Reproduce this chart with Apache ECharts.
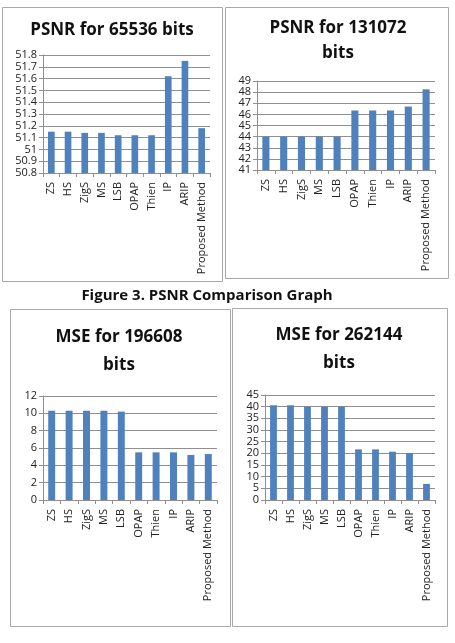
<!DOCTYPE html>
<html>
<head>
<meta charset="utf-8">
<script src="https://cdn.jsdelivr.net/npm/echarts@6/dist/echarts.min.js"></script>
<style>
html,body{margin:0;padding:0;background:#fff;}
#c{width:455px;height:643px;}
</style>
</head>
<body>
<div id="c"></div>
<script>
const categories = ['ZS','HS','ZigS','MS','LSB','OPAP','Thien','IP','ARIP','Proposed Method'];
const psnr65536 = [51.15,51.15,51.14,51.14,51.12,51.12,51.12,51.62,51.75,51.18];
const psnr131072 = [44,44,44,44,44,46.35,46.35,46.35,46.7,48.25];
const mse196608 = [10.3,10.3,10.3,10.3,10.2,5.5,5.5,5.5,5.2,5.3];
const mse262144 = [40.6,40.6,40,40,40,21.7,21.7,20.7,20.1,6.9];
const titles = ['PSNR for 65536 bits','PSNR for 131072\nbits','MSE for 196608\nbits','MSE for 262144\nbits'];
const caption = 'Figure 3. PSNR Comparison Graph';
const yMin = [50.8,41,0,0];
const yMax = [51.8,49,12,45];
const yStep = [0.1,1,2,5];

const FONT = '"Open Sans", "Noto Sans", sans-serif';
const seriesData = [psnr65536, psnr131072, mse196608, mse262144];
const grids = [
  {left:43, top:55, width:167, height:118},
  {left:257, top:81, width:178, height:89},
  {left:43, top:396, width:174, height:104},
  {left:265, top:395, width:170, height:105}
];
const gridColor = '#8f8f8f';
const xAxes = [], yAxes = [], series = [];
for (let i = 0; i < 4; i++) {
  xAxes.push({
    type:'category', gridIndex:i, data:categories,
    axisLine:{lineStyle:{color:gridColor,width:1}},
    axisTick:{show:true,length:4,lineStyle:{color:gridColor}},
    axisLabel:{rotate:90,fontSize:11,color:'#222',fontFamily:FONT,margin:9,interval:0}
  });
  yAxes.push({
    type:'value', gridIndex:i, min:yMin[i], max:yMax[i], interval:yStep[i],
    axisLine:{show:true,lineStyle:{color:gridColor}},
    axisTick:{show:true,length:4,lineStyle:{color:gridColor}},
    splitLine:{show:true,lineStyle:{color:gridColor,width:1}},
    axisLabel:{fontSize:11,color:'#222',fontFamily:FONT,margin:6,
      formatter:function(v){return String(+(+v).toFixed(1));}}
  });
  series.push({
    type:'bar', xAxisIndex:i, yAxisIndex:i, data:seriesData[i],
    barWidth:'40%', itemStyle:{color:'#4f81bd'}, animation:false
  });
}
const borderStyle = {fill:'#fff', stroke:'#a8a8a8', lineWidth:1};
const graphic = [
  {type:'rect', z:-10, shape:{x:2.5,y:7.5,width:220,height:274}, style:borderStyle},
  {type:'rect', z:-10, shape:{x:225.5,y:7.5,width:223,height:271}, style:borderStyle},
  {type:'rect', z:-10, shape:{x:10.5,y:309.5,width:220,height:317}, style:borderStyle},
  {type:'rect', z:-10, shape:{x:232.5,y:308.5,width:215,height:318}, style:borderStyle},
  {type:'text', style:{x:112,y:30,text:titles[0],textAlign:'center',textVerticalAlign:'middle',
    font:'bold 17px '+FONT,fill:'#111'}},
  {type:'text', style:{x:338,y:41,text:titles[1],textAlign:'center',textVerticalAlign:'middle',
    font:'bold 17px '+FONT,fill:'#111',lineHeight:25}},
  {type:'text', style:{x:119,y:351,text:titles[2],textAlign:'center',textVerticalAlign:'middle',
    font:'bold 17px '+FONT,fill:'#111',lineHeight:28}},
  {type:'text', style:{x:339,y:349,text:titles[3],textAlign:'center',textVerticalAlign:'middle',
    font:'bold 17px '+FONT,fill:'#111',lineHeight:28}},
  {type:'text', style:{x:207,y:296,text:caption,textAlign:'center',textVerticalAlign:'middle',
    font:'bold 15px '+FONT,fill:'#111'}}
];
const chart = echarts.init(document.getElementById('c'), null, {renderer:'canvas'});
chart.setOption({
  backgroundColor:'#fff',
  animation:false,
  grid:grids,
  xAxis:xAxes,
  yAxis:yAxes,
  series:series,
  graphic:graphic
});
</script>
</body>
</html>
